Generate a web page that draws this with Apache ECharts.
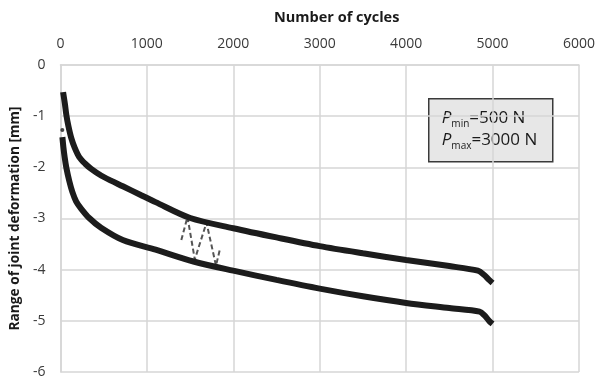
<!DOCTYPE html>
<html>
<head>
<meta charset="utf-8">
<script src="https://cdn.jsdelivr.net/npm/echarts@6/dist/echarts.min.js"></script>
<style>
	html, body { margin: 0; padding: 0; background: #fff; }
	#chart1 { width: 598px; height: 381px; }
</style>
</head>
<body>
<div id="chart1"></div>
<script>
/*---------- data ----------*/
// [cycles, deformation mm]
var upperCurve = [
	[31, -0.53], [52, -0.76], [69, -0.98], [92, -1.19], [126, -1.43], [166, -1.62],
	[218, -1.8], [287, -1.93], [356, -2.03], [470, -2.16], [585, -2.26], [722, -2.37],
	[929, -2.54], [1101, -2.68], [1502, -2.99], [2000, -3.19], [2500, -3.37], [3000, -3.54],
	[3500, -3.68], [4000, -3.81], [4500, -3.93], [4830, -4.02], [4900, -4.1], [4960, -4.2],
	[5000, -4.26]
];
var lowerCurve = [
	[23, -1.41], [34, -1.6], [49, -1.8], [69, -2.01], [103, -2.27], [138, -2.48],
	[183, -2.67], [241, -2.81], [333, -2.99], [470, -3.18], [722, -3.42], [1101, -3.61],
	[1540, -3.84], [2000, -4.02], [2500, -4.2], [3000, -4.37], [3500, -4.52], [4000, -4.65],
	[4500, -4.75], [4850, -4.82], [4910, -4.9], [4960, -5.0], [5000, -5.06]
];
var lowerHead = [[22, -1.27]];
var dashedWave = [
	[1399, -3.42], [1470, -2.97], [1555, -3.8], [1690, -3.08], [1800, -3.92], [1846, -3.6]
];
var xRange = [0, 6000, 1000];
var yRange = [-6, 0, 1];
var boxLines = [
	["P", "min", "=500 N"],
	["P", "max", "=3000 N"]
];
/*----------------------------------*/

var font = "'Open Sans', 'DejaVu Sans', sans-serif";
var gridColor = "#d6d6d6";

var myChart = echarts.init(document.getElementById("chart1"), null, { renderer: "canvas" });

var boxText = boxLines.map(function(l) {
	return "{p|" + l[0] + "}{s|" + l[1] + "}{n|" + l[2] + "}";
}).join("\n");

function plain(v) {
	return String(v); // no thousands separator
}

myChart.setOption({
	animation: false,
	grid: {
		left: 59,
		right: 15,
		top: 65,
		bottom: 9,
		containLabel: false
	},
	xAxis: {
		type: "value",
		position: "top",
		min: xRange[0],
		max: xRange[1],
		interval: xRange[2],
		name: "Number of cycles",
		nameLocation: "middle",
		nameGap: 40,
		nameTextStyle: {
			fontFamily: font,
			fontWeight: "bold",
			fontSize: 14.5,
			color: "#1a1a1a",
			padding: [0, 0, 0, 34]
		},
		axisLine: { show: true, lineStyle: { color: gridColor, width: 1.5 } },
		axisTick: { show: false },
		axisLabel: {
			margin: 14,
			fontFamily: font,
			fontSize: 14,
			color: "#3a3a3a",
			formatter: plain
		},
		splitLine: { show: true, lineStyle: { color: gridColor, width: 1.5 } }
	},
	yAxis: {
		type: "value",
		min: yRange[0],
		max: yRange[1],
		interval: yRange[2],
		name: "Range of joint deformation [mm]",
		nameLocation: "middle",
		nameGap: 37,
		nameTextStyle: {
			fontFamily: font,
			fontWeight: "bold",
			fontSize: 13.7,
			color: "#1a1a1a"
		},
		axisLine: { show: true, lineStyle: { color: gridColor, width: 1.5 } },
		axisTick: { show: false },
		axisLabel: {
			margin: 15,
			fontFamily: font,
			fontSize: 14,
			color: "#3a3a3a",
			formatter: plain
		},
		splitLine: { show: true, lineStyle: { color: gridColor, width: 1.5 } }
	},
	graphic: [{
		type: "group",
		left: 428,
		top: 98,
		children: [{
			type: "rect",
			shape: { x: 0, y: 0, width: 124, height: 63 },
			style: { fill: "#e7e7e7", stroke: "#3a3a3a", lineWidth: 1.5 }
		}, {
			type: "text",
			x: 13,
			y: 8,
			style: {
				text: boxText,
				fill: "#1a1a1a",
				rich: {
					p: { fontFamily: font, fontSize: 17, fontStyle: "italic", lineHeight: 22, fill: "#1a1a1a" },
					s: { fontFamily: font, fontSize: 10, verticalAlign: "bottom", lineHeight: 16, fill: "#1a1a1a" },
					n: { fontFamily: font, fontSize: 17, lineHeight: 22, fill: "#1a1a1a" }
				}
			}
		}]
	}],
	series: [
		{
			name: "upper",
			type: "line",
			data: upperCurve,
			showSymbol: false,
			smooth: 0.3,
			lineStyle: { color: "#1c1c1c", width: 6 },
			z: 3
		},
		{
			name: "lower",
			type: "line",
			data: lowerCurve,
			showSymbol: false,
			smooth: 0.3,
			lineStyle: { color: "#1c1c1c", width: 6 },
			z: 3
		},
		{
			name: "lowerHead",
			type: "scatter",
			data: lowerHead,
			symbolSize: 4,
			itemStyle: { color: "#1c1c1c" },
			z: 3
		},
		{
			name: "wave",
			type: "line",
			data: dashedWave,
			showSymbol: false,
			lineStyle: { color: "#555", width: 2, type: [5, 3] },
			z: 2
		}
	]
});
</script>
</body>
</html>
